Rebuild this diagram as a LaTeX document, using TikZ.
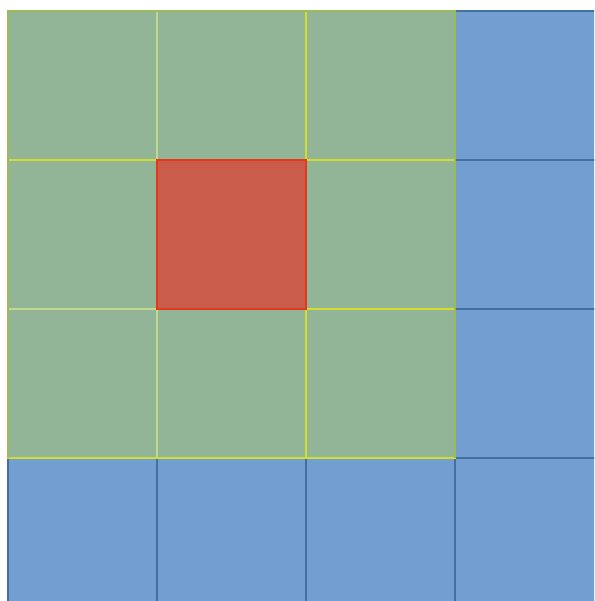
\documentclass[tikz,border=0pt]{standalone}
\begin{document}
\begin{tikzpicture}[x=1pt,y=-1pt,
  bluecell/.style={fill=bluefill,draw=blueline,line width=1.2pt},
  greencell/.style={fill=greenfill,draw=yellowline,line width=1.3pt},
  redcell/.style={fill=redfill,draw=redline,line width=1.3pt}]
\definecolor{bluefill}{HTML}{729FCF}
\definecolor{blueline}{HTML}{41719C}
\definecolor{greenfill}{HTML}{93B597}
\definecolor{yellowline}{HTML}{D2DE2C}
\definecolor{paleline}{HTML}{C2D890}
\definecolor{olive}{HTML}{9BBB59}
\definecolor{redfill}{HTML}{C95C4B}
\definecolor{redline}{HTML}{E8361A}
\useasboundingbox (0,0) rectangle (594,601);
\fill[white] (0,0) rectangle (594,601);
\begin{scope}
\clip (0,0) rectangle (594,601);
\foreach \r in {0,1,2,3} {
  \draw[bluecell] (455,11+149*\r) rectangle ++(149,149);
}
\foreach \c in {0,1,2} {
  \draw[bluecell] (8+149*\c,458) rectangle ++(149,149);
}
\foreach \r in {0,1,2} {
  \foreach \c in {0,1,2} {
    \draw[greencell] (8+149*\c,11+149*\r) rectangle ++(149,149);
  }
}
\draw[paleline,line width=1.3pt] (157,11) -- (157,159);
\draw[paleline,line width=1.3pt] (157,310) -- (157,457);
\draw[paleline,line width=1.3pt] (9,309) -- (156,309);
\draw[olive,line width=1.5pt] (8,458) -- (8,11) -- (455,11) -- (455,458);
\draw[redcell] (157,160) rectangle (306,309);
\end{scope}
\end{tikzpicture}
\end{document}
